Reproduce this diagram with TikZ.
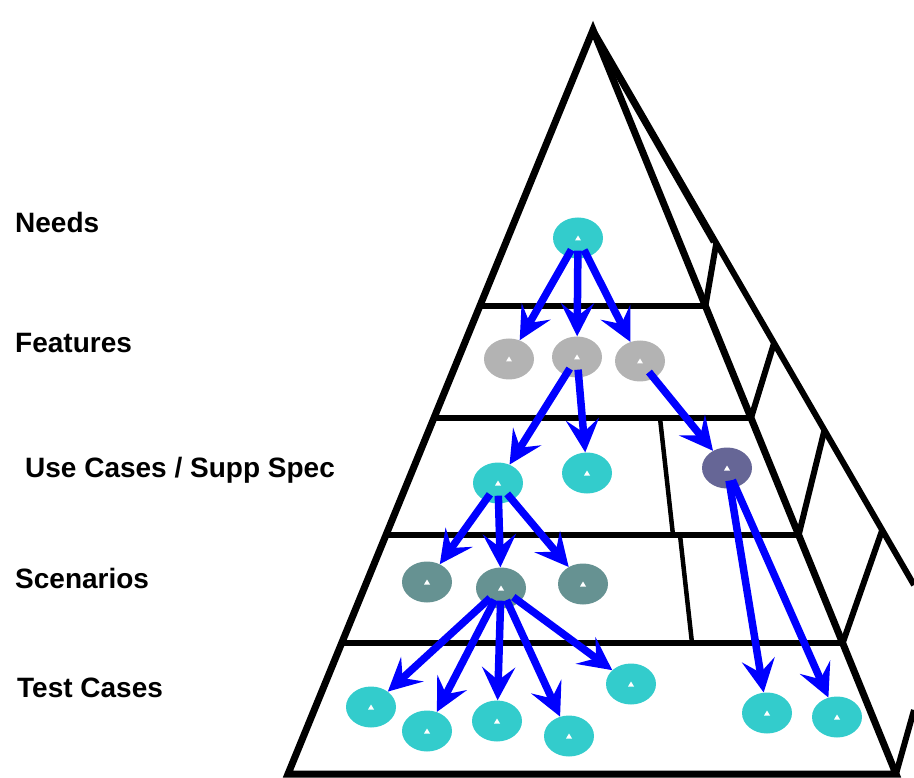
\documentclass[tikz,border=0pt]{standalone}
\usepackage{fontspec}
\setmainfont{Liberation Sans}
\usetikzlibrary{arrows.meta,
                  calc,
                  shapes.geometric,
                  positioning}
\definecolor{needcyan}{RGB}{51,204,204}
\definecolor{featgray}{RGB}{179,179,179}
\definecolor{scengray}{RGB}{102,146,146}
\definecolor{suppblue}{RGB}{102,102,150}

\begin{document}
\begin{tikzpicture}[x=1pt, y=-1pt, every node/.style={font=\fontsize{28}{32}\selectfont\bfseries}]
    \tikzset{
    reqnode/.style={shape=ellipse, minimum width=50pt, minimum height=41pt, inner sep=0pt, fill=#1,
        path picture={\fill[white] ([shift={(-3pt,-2.5pt)}]path picture bounding box.center) -- ++(6pt,0pt) -- ++(-3pt,5pt) -- cycle;}},
    tier/.style={shape=rectangle, anchor=base west, inner sep=0pt},
    wall/.style={draw, line width=7pt, line join=miter},
    floor/.style={draw, line width=6pt},
    split/.style={draw, line width=4.5pt},
    flow/.style={draw=blue, line width=7.5pt, shorten <=-8pt, -{Stealth[length=33pt,width=33pt,inset=13pt]}}
}
\useasboundingbox (0,0) rectangle (914,778);

\coordinate (top) at (593,30);
\coordinate (bl) at (288,774);
\coordinate (br) at (896,774);
\coordinate (back) at (914,585);

% pyramid
\path [wall] (bl) -- (top) -- (br) -- cycle;
\path [floor] (top) -- (back);
\path [draw, line width=2pt] (604,55) -- (712,243);
\path [floor] ($(top)!0.371!(bl)$) -- ($(top)!0.371!(br)$);
\path [floor] ($(top)!0.5215!(bl)$) -- ($(top)!0.5215!(br)$);
\path [floor] ($(top)!0.6788!(bl)$) -- ($(top)!0.6788!(br)$);
\path [floor] ($(top)!0.824!(bl)$) -- ($(top)!0.824!(br)$);
\path [floor] ($(top)!0.371!(br)$) -- ($(top)!0.384!(back)$);
\path [floor] ($(top)!0.5215!(br)$) -- ($(top)!0.564!(back)$);
\path [floor] ($(top)!0.6788!(br)$) -- ($(top)!0.721!(back)$);
\path [floor] ($(top)!0.824!(br)$) -- ($(top)!0.901!(back)$);
\path [floor] (br) -- (914,710);
\path [split] (660,418) -- (673,535);
\path [split] (680,535) -- (692,643);

\node [tier] (needslabel) at (15,233) {Needs};
\node [tier] (featlabel) at (15,353) {Features};
\node [tier] (uselabel) at (25,477) {Use Cases / Supp Spec};
\node [tier] (scenlabel) at (15,588) {Scenarios};
\node [tier] (testlabel) at (17,697) {Test Cases};

\node [reqnode=needcyan] (need) at (578,238) {};
\node [reqnode=featgray] (featA) at (509,359) {};
\node [reqnode=featgray] (featB) at (577,357) {};
\node [reqnode=featgray] (featC) at (640,361) {};
\node [reqnode=needcyan] (useA) at (498,483) {};
\node [reqnode=needcyan] (useB) at (587,473) {};
\node [reqnode=suppblue] (supp) at (727,468) {};
\node [reqnode=scengray] (scenA) at (427,582) {};
\node [reqnode=scengray] (scenB) at (501,588) {};
\node [reqnode=scengray] (scenC) at (583,584) {};
\node [reqnode=needcyan] (testA) at (371,707) {};
\node [reqnode=needcyan] (testB) at (427,731) {};
\node [reqnode=needcyan] (testC) at (497,721) {};
\node [reqnode=needcyan] (testD) at (569,736) {};
\node [reqnode=needcyan] (testE) at (631,684) {};
\node [reqnode=needcyan] (testF) at (767,713) {};
\node [reqnode=needcyan] (testG) at (837,717) {};

\path [flow] (need) -- (featA);
\path [flow] (need) -- (featB);
\path [flow] (need) -- (featC);
\path [flow] (featB) -- (useA);
\path [flow] (featB) -- (useB);
\path [flow] (featC) -- (supp);
\path [flow] (useA) -- (scenA);
\path [flow] (useA) -- (scenB);
\path [flow] (useA) -- (scenC);
\path [flow] (scenB) -- (testA);
\path [flow] (scenB) -- (testB);
\path [flow] (scenB) -- (testC);
\path [flow] (scenB) -- (testD);
\path [flow] (scenB) -- (testE);
\path [flow] (supp) -- (testF);
\path [flow] (supp) -- (testG);

\end{tikzpicture}
\end{document}
